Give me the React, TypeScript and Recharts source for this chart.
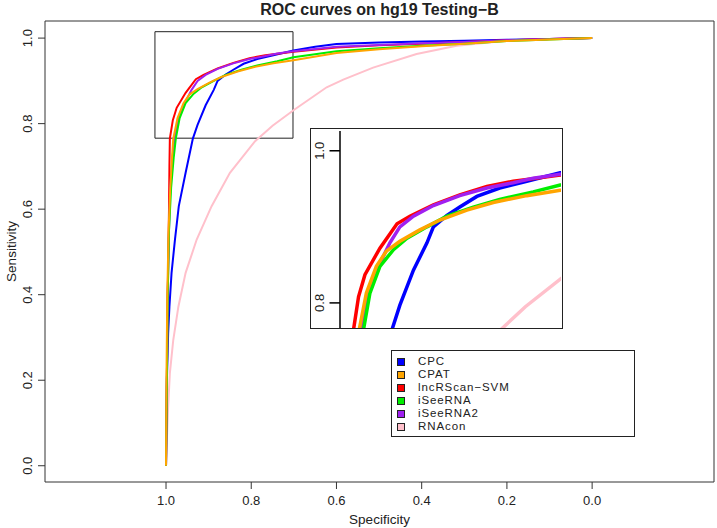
import { LineChart, Line, XAxis, YAxis, ReferenceArea, Label } from "recharts";

// [specificity, sensitivity] pairs
const cpc = [
  [1.0, 0.0], [0.999, 0.1], [0.998, 0.2], [0.995, 0.31], [0.992, 0.372], [0.987, 0.451],
  [0.979, 0.529], [0.97, 0.607], [0.954, 0.685], [0.937, 0.765], [0.926, 0.797],
  [0.907, 0.843], [0.888, 0.879], [0.879, 0.9], [0.86, 0.915], [0.842, 0.926],
  [0.818, 0.94], [0.786, 0.951], [0.748, 0.96], [0.701, 0.971], [0.65, 0.98],
  [0.6, 0.986], [0.5, 0.99], [0.4, 0.992], [0.3, 0.994], [0.2, 0.996], [0.1, 0.998], [0.0, 1.0],
];
const cpat = [
  [1.0, 0.0], [0.999, 0.2], [0.997, 0.4], [0.994, 0.55], [0.99, 0.65], [0.986, 0.72],
  [0.983, 0.765], [0.973, 0.813], [0.959, 0.848], [0.945, 0.868], [0.926, 0.881],
  [0.898, 0.896], [0.87, 0.909], [0.832, 0.922], [0.795, 0.932], [0.748, 0.941],
  [0.701, 0.948], [0.6, 0.965], [0.5, 0.974], [0.4, 0.981], [0.3, 0.987], [0.2, 0.993],
  [0.1, 0.997], [0.0, 1.0],
];
const lncrscan = [
  [1.0, 0.0], [0.998, 0.2], [0.996, 0.4], [0.993, 0.6], [0.992, 0.7], [0.991, 0.765],
  [0.984, 0.808], [0.975, 0.837], [0.954, 0.872], [0.93, 0.904], [0.912, 0.914],
  [0.879, 0.929], [0.842, 0.942], [0.804, 0.953], [0.767, 0.96], [0.701, 0.968],
  [0.6, 0.978], [0.5, 0.983], [0.4, 0.987], [0.3, 0.991], [0.2, 0.995], [0.1, 0.998], [0.0, 1.0],
];
const iseerna = [
  [1.0, 0.0], [0.998, 0.2], [0.996, 0.4], [0.993, 0.55], [0.988, 0.65], [0.982, 0.72],
  [0.977, 0.765], [0.968, 0.813], [0.954, 0.848], [0.935, 0.87], [0.916, 0.885],
  [0.888, 0.9], [0.86, 0.914], [0.823, 0.926], [0.786, 0.936], [0.739, 0.946],
  [0.701, 0.955], [0.6, 0.969], [0.5, 0.976], [0.4, 0.982], [0.3, 0.987], [0.2, 0.993],
  [0.1, 0.997], [0.0, 1.0],
];
const iseerna2 = [
  [1.0, 0.0], [0.998, 0.2], [0.996, 0.4], [0.993, 0.55], [0.99, 0.65], [0.985, 0.72],
  [0.98, 0.765], [0.968, 0.821], [0.954, 0.852], [0.94, 0.879], [0.926, 0.9],
  [0.907, 0.914], [0.879, 0.928], [0.842, 0.941], [0.804, 0.951], [0.767, 0.958],
  [0.739, 0.964], [0.701, 0.969], [0.6, 0.98], [0.5, 0.984], [0.4, 0.988], [0.3, 0.991],
  [0.2, 0.995], [0.1, 0.998], [0.0, 1.0],
];
const rnacon = [
  [1.0, 0.0], [0.998, 0.06], [0.995, 0.138], [0.991, 0.216], [0.983, 0.294],
  [0.971, 0.372], [0.954, 0.451], [0.928, 0.529], [0.893, 0.607], [0.85, 0.685],
  [0.791, 0.759], [0.75, 0.795], [0.7, 0.832], [0.623, 0.885], [0.584, 0.903],
  [0.514, 0.931], [0.412, 0.963], [0.318, 0.982], [0.201, 0.994], [0.1, 0.998], [0.0, 1.0],
];

const seriesNames = ["CPC", "CPAT", "lncRScan\u2212SVM", "iSeeRNA", "iSeeRNA2", "RNAcon"];
const seriesColors = ["#0000FF", "#FFA500", "#FF0000", "#00EE00", "#A020F0", "#FFC0CB"];
const seriesPoints = [cpc, cpat, lncrscan, iseerna, iseerna2, rnacon];
// paint order (last on top)
const drawOrder = [5, 0, 2, 4, 3, 1];

const xTicks = [1.0, 0.8, 0.6, 0.4, 0.2, 0.0];
const yTicks = [0.0, 0.2, 0.4, 0.6, 0.8, 1.0];
const insetTicks = [0.8, 1.0];

const FONT = "'Liberation Sans', Arial, Helvetica, sans-serif";
const INK = "#222";

const toRows = (pts: number[][]) => pts.map(([spec, sens]) => ({ spec, sens }));

function XTick({ x, y, payload }: any) {
  return (
    <text x={x} y={y + 14} textAnchor="middle" fontSize={13} fontFamily={FONT} fill={INK}>
      {payload.value.toFixed(1)}
    </text>
  );
}

function YTick({ x, y, payload }: any) {
  const bx = x - 4;
  return (
    <text x={bx} y={y} transform={`rotate(-90, ${bx}, ${y})`} textAnchor="middle" fontSize={13} fontFamily={FONT} fill={INK}>
      {payload.value.toFixed(1)}
    </text>
  );
}

function InsetTick({ x, y, payload }: any) {
  const bx = x - 3;
  return (
    <text x={bx} y={y} transform={`rotate(-90, ${bx}, ${y})`} textAnchor="middle" fontSize={13} fontFamily={FONT} fill={INK}>
      {payload.value.toFixed(1)}
    </text>
  );
}

export default function App() {
  return (
    <div style={{ position: "absolute", left: 0, top: 0, width: 717, height: 528, background: "#fff", fontFamily: FONT }}>
      <div style={{ position: "absolute", left: 45, top: 1, width: 669, textAlign: "center", fontWeight: "bold", fontSize: 16, lineHeight: "18px", color: INK }}>
        ROC curves on hg19 Testing{"\u2212"}B
      </div>

      <LineChart width={717} height={528} margin={{ top: 21, right: 3, bottom: 0, left: 0 }}>
        <XAxis
          type="number"
          dataKey="spec"
          domain={[-0.286, 1.284]}
          reversed
          allowDataOverflow
          ticks={xTicks}
          interval={0}
          height={46}
          tickSize={7}
          axisLine={false}
          tickLine={{ stroke: "#333" }}
          tick={XTick}
        >
          <Label
            content={({ viewBox }: any) => (
              <text x={viewBox.x + viewBox.width / 2} y={viewBox.y + 42} textAnchor="middle" fontSize={13.5} fontFamily={FONT} fill={INK}>
                Specificity
              </text>
            )}
          />
        </XAxis>
        <YAxis
          type="number"
          dataKey="sens"
          domain={[-0.038, 1.04]}
          allowDataOverflow
          ticks={yTicks}
          interval={0}
          width={45}
          tickSize={7}
          axisLine={false}
          tickLine={{ stroke: "#333" }}
          tick={YTick}
        >
          <Label
            content={({ viewBox }: any) => {
              const cx = 15.5;
              const cy = viewBox.y + viewBox.height / 2;
              return (
                <text x={cx} y={cy} transform={`rotate(-90, ${cx}, ${cy})`} textAnchor="middle" fontSize={13.5} fontFamily={FONT} fill={INK}>
                  Sensitivity
                </text>
              );
            }}
          />
        </YAxis>
        <ReferenceArea x1={-0.286} x2={1.284} y1={-0.038} y2={1.04} ifOverflow="visible" fill="none" stroke="#333" strokeWidth={1} />
        <ReferenceArea x1={0.702} x2={1.026} y1={0.766} y2={1.015} ifOverflow="visible" fill="none" stroke={INK} strokeWidth={1} />
        {drawOrder.map((i) => (
          <Line
            key={seriesNames[i]}
            name={seriesNames[i]}
            data={toRows(seriesPoints[i])}
            dataKey="sens"
            type="linear"
            stroke={seriesColors[i]}
            strokeWidth={2}
            dot={false}
            activeDot={false}
            isAnimationActive={false}
          />
        ))}
      </LineChart>

      <div style={{ position: "absolute", left: 310, top: 128, width: 253, height: 201, border: `1px solid ${INK}`, boxSizing: "border-box", background: "#fff" }}>
        <LineChart width={251} height={199} margin={{ top: 2, right: 1, bottom: 0, left: 0 }}>
          <XAxis type="number" dataKey="spec" domain={[0.7, 1.01]} reversed allowDataOverflow hide />
          <YAxis
            type="number"
            dataKey="sens"
            domain={[0.767, 1.026]}
            allowDataOverflow
            ticks={insetTicks}
            interval={0}
            width={29}
            tickSize={10.5}
            axisLine={{ stroke: "#000", strokeWidth: 1.5 }}
            tickLine={{ stroke: "#000", strokeWidth: 1.5 }}
            tick={InsetTick}
          />
          {drawOrder.map((i) => (
            <Line
              key={seriesNames[i]}
              data={toRows(seriesPoints[i])}
              dataKey="sens"
              type="linear"
              stroke={seriesColors[i]}
              strokeWidth={3.5}
              dot={false}
              activeDot={false}
              isAnimationActive={false}
            />
          ))}
        </LineChart>
      </div>

      <div style={{ position: "absolute", left: 391, top: 350, width: 244, height: 87, border: `1px solid ${INK}`, boxSizing: "border-box", background: "#fff", paddingTop: 4 }}>
        {seriesNames.map((n, i) => (
          <div key={n} style={{ display: "flex", alignItems: "center", height: 13, color: INK }}>
            <span style={{ display: "inline-block", width: 6, height: 6, marginLeft: 5, marginRight: 13, background: seriesColors[i], border: "1px solid #222" }} />
            <span style={{ fontSize: 11.5, lineHeight: "13px", letterSpacing: 0.9 }}>{n}</span>
          </div>
        ))}
      </div>
    </div>
  );
}
